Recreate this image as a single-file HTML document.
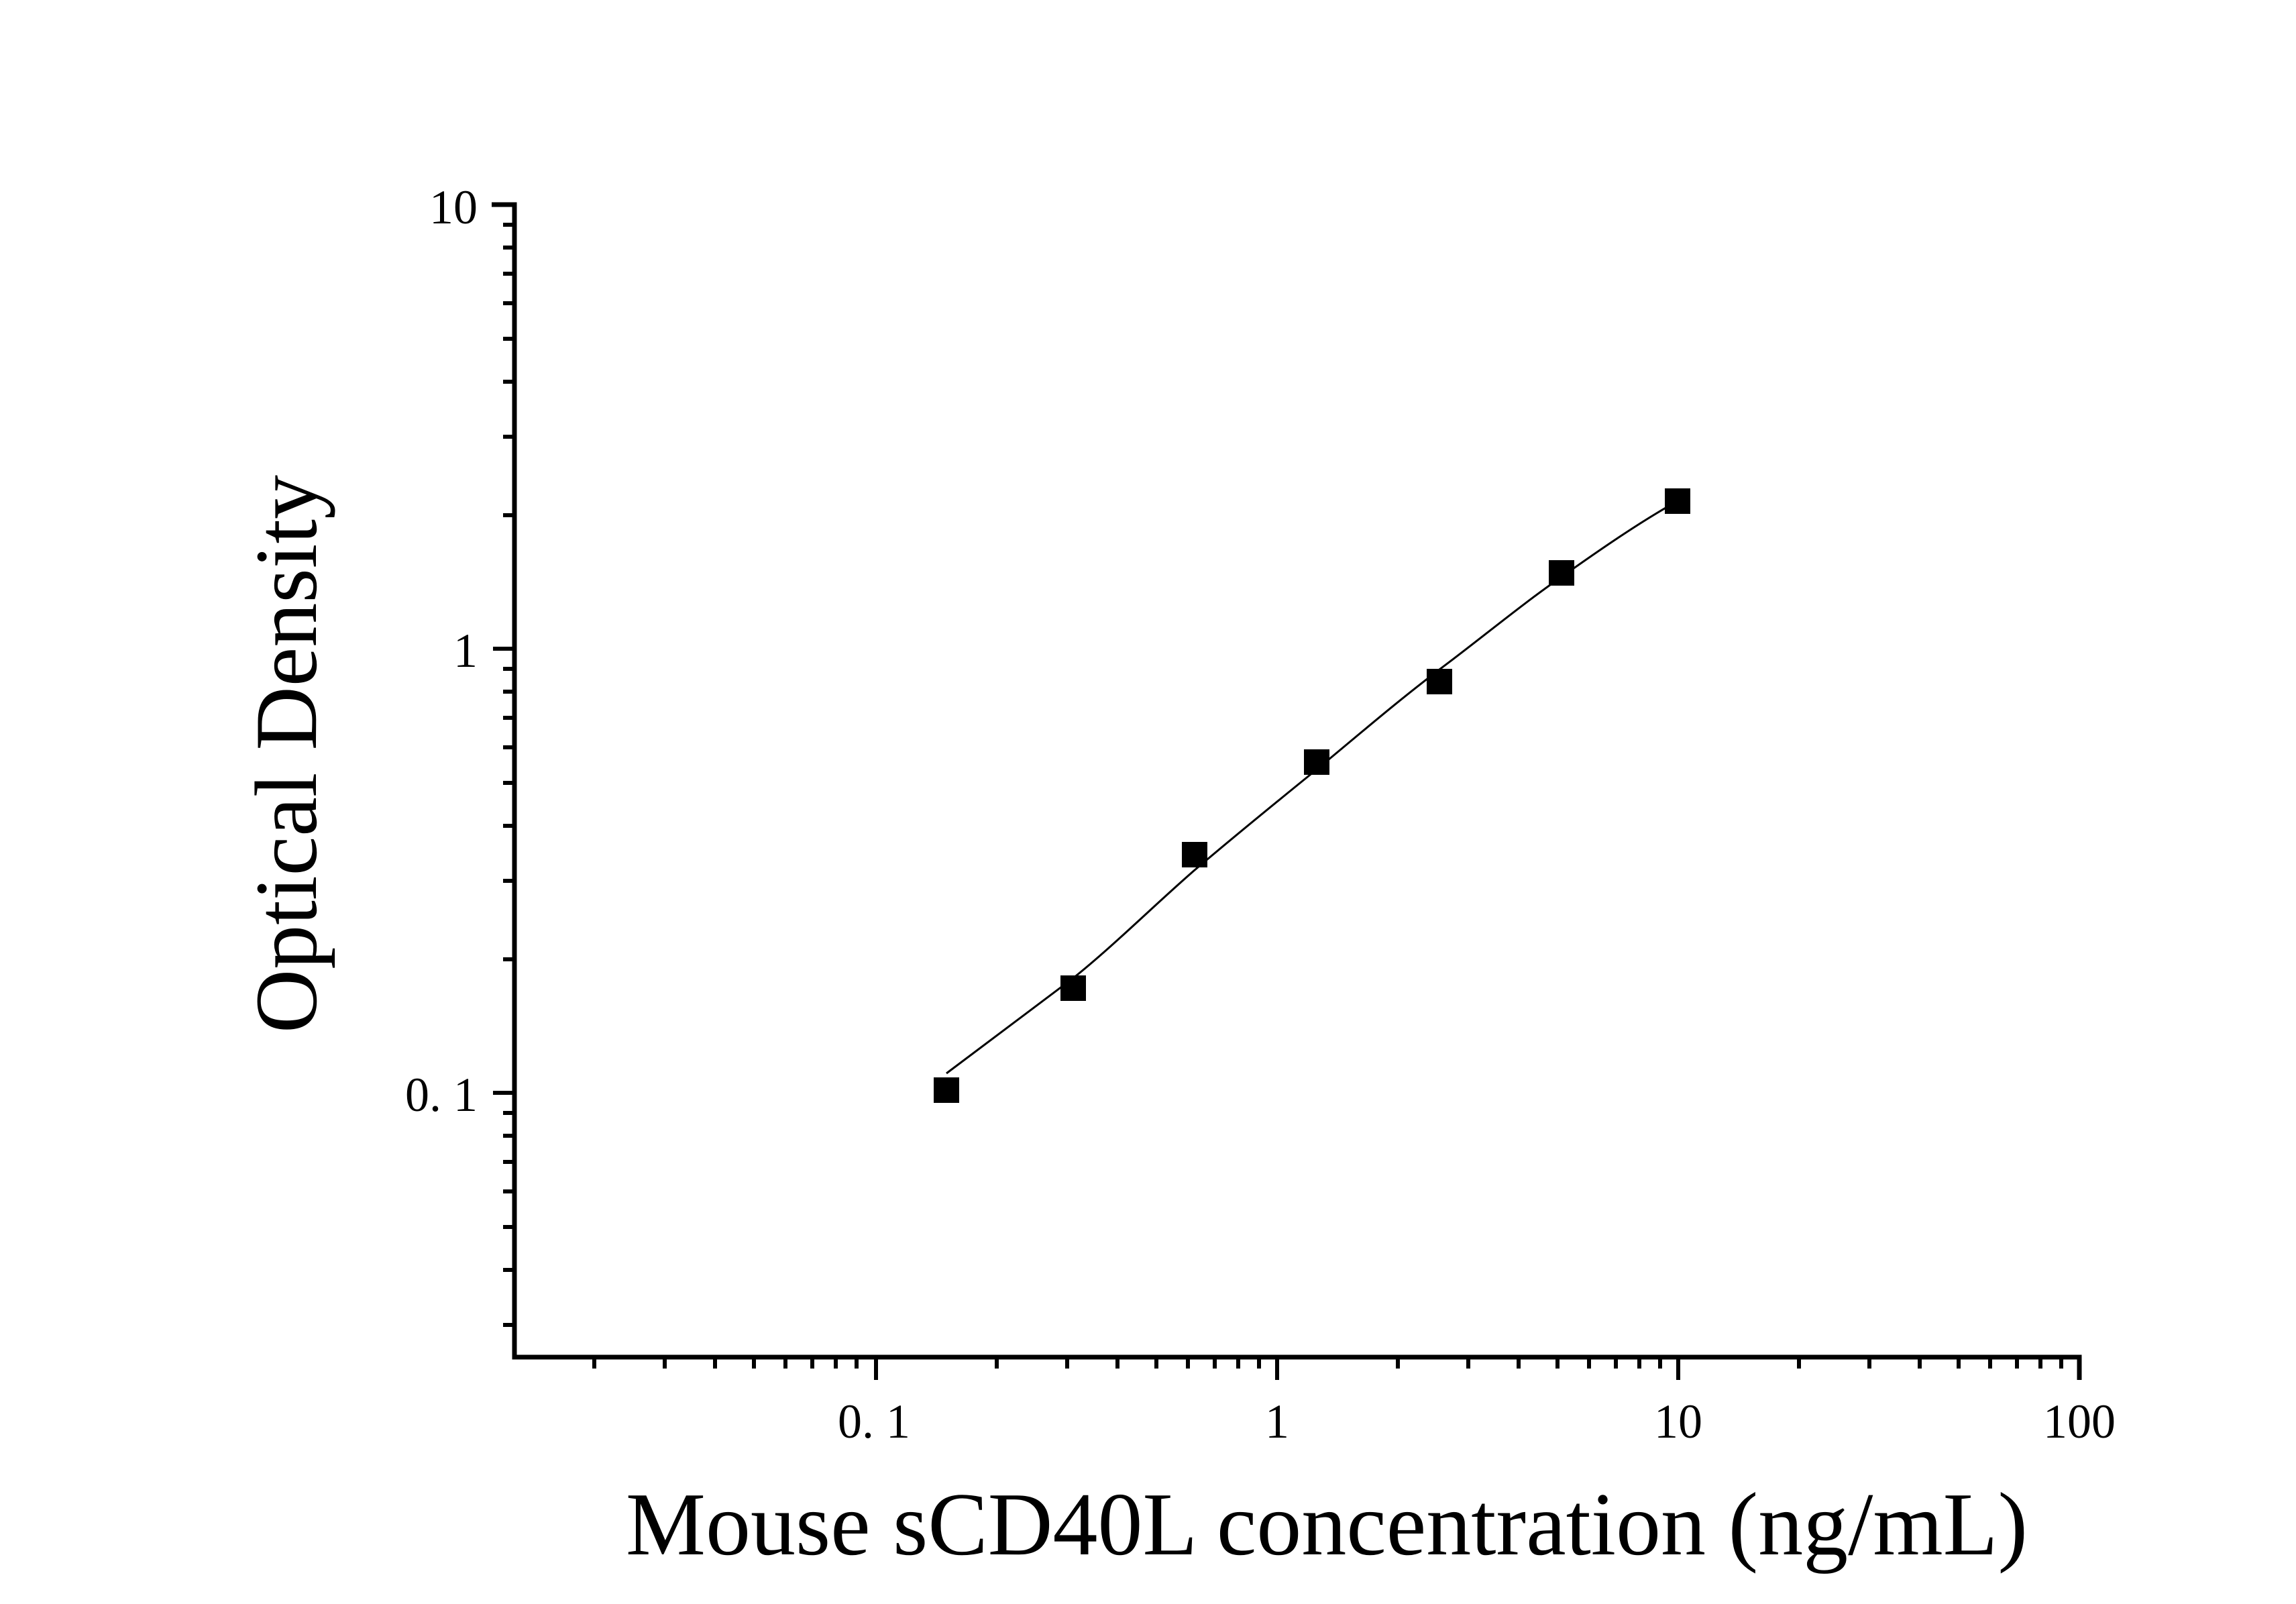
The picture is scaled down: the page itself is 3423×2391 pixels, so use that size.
<!DOCTYPE html>
<html><head><meta charset="utf-8"><style>
html,body{margin:0;padding:0;background:#fff;}
svg{display:block;}
text{font-family:"Liberation Serif",serif;fill:#000;}
</style></head><body>
<svg width="3423" height="2391" viewBox="0 0 3423 2391" xmlns="http://www.w3.org/2000/svg">
<g stroke="#000" stroke-width="7" fill="none">
<path d="M733,305 H767 V2023 H3100 V2057"/>
</g>
<g stroke="#000" stroke-width="6">
<line x1="735" y1="967" x2="767" y2="967"/>
<line x1="735" y1="1629" x2="767" y2="1629"/>
<line x1="750" y1="768" x2="767" y2="768"/>
<line x1="750" y1="651" x2="767" y2="651"/>
<line x1="750" y1="569" x2="767" y2="569"/>
<line x1="750" y1="505" x2="767" y2="505"/>
<line x1="750" y1="452" x2="767" y2="452"/>
<line x1="750" y1="408" x2="767" y2="408"/>
<line x1="750" y1="369" x2="767" y2="369"/>
<line x1="750" y1="335" x2="767" y2="335"/>
<line x1="750" y1="1430" x2="767" y2="1430"/>
<line x1="750" y1="1313" x2="767" y2="1313"/>
<line x1="750" y1="1231" x2="767" y2="1231"/>
<line x1="750" y1="1167" x2="767" y2="1167"/>
<line x1="750" y1="1114" x2="767" y2="1114"/>
<line x1="750" y1="1070" x2="767" y2="1070"/>
<line x1="750" y1="1031" x2="767" y2="1031"/>
<line x1="750" y1="997" x2="767" y2="997"/>
<line x1="750" y1="1659" x2="767" y2="1659"/>
<line x1="750" y1="1693" x2="767" y2="1693"/>
<line x1="750" y1="1732" x2="767" y2="1732"/>
<line x1="750" y1="1776" x2="767" y2="1776"/>
<line x1="750" y1="1829" x2="767" y2="1829"/>
<line x1="750" y1="1893" x2="767" y2="1893"/>
<line x1="750" y1="1975" x2="767" y2="1975"/>
<line x1="1306" y1="2023" x2="1306" y2="2057"/>
<line x1="1904" y1="2023" x2="1904" y2="2057"/>
<line x1="2502" y1="2023" x2="2502" y2="2057"/>
<line x1="886" y1="2023" x2="886" y2="2040"/>
<line x1="991" y1="2023" x2="991" y2="2040"/>
<line x1="1066" y1="2023" x2="1066" y2="2040"/>
<line x1="1124" y1="2023" x2="1124" y2="2040"/>
<line x1="1171" y1="2023" x2="1171" y2="2040"/>
<line x1="1211" y1="2023" x2="1211" y2="2040"/>
<line x1="1246" y1="2023" x2="1246" y2="2040"/>
<line x1="1277" y1="2023" x2="1277" y2="2040"/>
<line x1="1486" y1="2023" x2="1486" y2="2040"/>
<line x1="1591" y1="2023" x2="1591" y2="2040"/>
<line x1="1666" y1="2023" x2="1666" y2="2040"/>
<line x1="1724" y1="2023" x2="1724" y2="2040"/>
<line x1="1771" y1="2023" x2="1771" y2="2040"/>
<line x1="1811" y1="2023" x2="1811" y2="2040"/>
<line x1="1846" y1="2023" x2="1846" y2="2040"/>
<line x1="1877" y1="2023" x2="1877" y2="2040"/>
<line x1="2084" y1="2023" x2="2084" y2="2040"/>
<line x1="2189" y1="2023" x2="2189" y2="2040"/>
<line x1="2264" y1="2023" x2="2264" y2="2040"/>
<line x1="2322" y1="2023" x2="2322" y2="2040"/>
<line x1="2369" y1="2023" x2="2369" y2="2040"/>
<line x1="2409" y1="2023" x2="2409" y2="2040"/>
<line x1="2444" y1="2023" x2="2444" y2="2040"/>
<line x1="2475" y1="2023" x2="2475" y2="2040"/>
<line x1="2682" y1="2023" x2="2682" y2="2040"/>
<line x1="2787" y1="2023" x2="2787" y2="2040"/>
<line x1="2862" y1="2023" x2="2862" y2="2040"/>
<line x1="2920" y1="2023" x2="2920" y2="2040"/>
<line x1="2967" y1="2023" x2="2967" y2="2040"/>
<line x1="3007" y1="2023" x2="3007" y2="2040"/>
<line x1="3042" y1="2023" x2="3042" y2="2040"/>
<line x1="3073" y1="2023" x2="3073" y2="2040"/>
</g>
<g font-size="72">
<text x="712" y="333" text-anchor="end">10</text>
<text x="712" y="994" text-anchor="end">1</text>
<text x="712" y="1656" text-anchor="end">0. 1</text>
<text x="1303" y="2143" text-anchor="middle">0. 1</text>
<text x="1904" y="2143" text-anchor="middle">1</text>
<text x="2502" y="2143" text-anchor="middle">10</text>
<text x="3100" y="2143" text-anchor="middle">100</text>
</g>
<text x="1978" y="2317" font-size="134" text-anchor="middle">Mouse sCD40L concentration (ng/mL)</text>
<text transform="translate(471,1124) rotate(-90)" font-size="132" text-anchor="middle">Optical Density</text>
<path d="M1411,1600 C1470,1555 1530,1510 1600,1458 C1660,1410 1720,1350 1781,1297 C1840,1247 1900,1198 1963,1147 C2020,1100 2080,1048 2146,998 C2210,950 2270,900 2328,860 C2390,816 2450,775 2501,747" fill="none" stroke="#000" stroke-width="3"/>
<g fill="#000">
<rect x="1392" y="1606" width="38" height="38"/>
<rect x="1581" y="1454" width="38" height="38"/>
<rect x="1762" y="1255" width="38" height="38"/>
<rect x="1944" y="1117" width="38" height="38"/>
<rect x="2127" y="997" width="38" height="38"/>
<rect x="2309" y="835" width="38" height="38"/>
<rect x="2482" y="728" width="38" height="38"/>
</g>
</svg>
</body></html>
